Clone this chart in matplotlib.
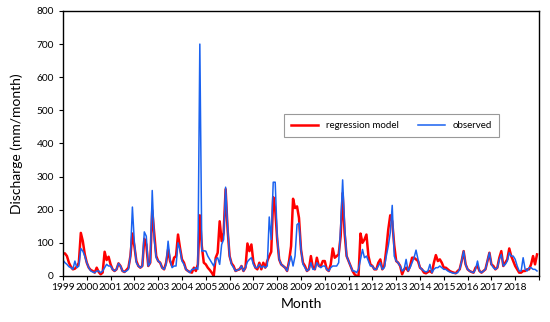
import numpy as np
import matplotlib
matplotlib.use("Agg")
import matplotlib.pyplot as plt

plt.rcParams['font.family'] = ['Lato', 'DejaVu Sans']

years = [str(y) for y in range(1999, 2019)]

# monthly discharge (mm/month), Jan 1999 - Dec 2018
regression = [
    68, 68, 60, 40, 28, 20, 22, 28, 40, 130, 105, 65,      # 1999
    40, 25, 18, 15, 10, 25, 12, 5, 10, 73, 48, 58,         # 2000
    35, 20, 15, 20, 38, 30, 15, 12, 18, 25, 60, 128,       # 2001
    90, 45, 30, 25, 30, 112, 95, 30, 40, 198, 130, 60,     # 2002
    45, 40, 25, 20, 40, 80, 45, 30, 55, 60, 125, 85,       # 2003
    50, 40, 20, 15, 12, 10, 25, 15, 35, 183, 90, 40,       # 2004
    35, 25, 18, 10, 0, 55, 70, 165, 105, 130, 262, 140,    # 2005
    60, 38, 30, 15, 18, 20, 30, 15, 25, 98, 75, 95,        # 2006
    42, 25, 20, 40, 20, 40, 25, 45, 60, 73, 238, 200,      # 2007
    110, 50, 35, 30, 25, 15, 45, 90, 233, 205, 210, 175,   # 2008
    80, 40, 30, 15, 20, 60, 25, 20, 55, 30, 30, 45,        # 2009
    45, 20, 15, 35, 83, 55, 60, 65, 120, 250, 130, 60,     # 2010
    45, 30, 15, 5, 0, 0, 128, 100, 110, 125, 60, 35,       # 2011
    30, 20, 20, 40, 50, 20, 30, 80, 140, 183, 165, 93,     # 2012
    45, 40, 30, 5, 20, 25, 15, 30, 55, 55, 50, 45,         # 2013
    25, 20, 10, 8, 12, 15, 10, 40, 63, 45, 50, 40,         # 2014
    25, 25, 20, 15, 12, 10, 8, 15, 20, 45, 75, 35,         # 2015
    20, 15, 12, 10, 25, 30, 15, 10, 15, 20, 45, 70,        # 2016
    35, 30, 20, 25, 55, 75, 30, 40, 50, 83, 60, 45,        # 2017
    30, 20, 10, 10, 15, 15, 20, 20, 35, 60, 35, 65,        # 2018
]

observed = [
    48, 40, 35, 28, 25, 20, 45, 25, 30, 83, 75, 60,        # 1999
    40, 25, 15, 12, 10, 15, 15, 10, 15, 25, 35, 30,        # 2000
    30, 20, 15, 20, 38, 30, 15, 12, 15, 20, 60, 208,       # 2001
    100, 40, 30, 25, 30, 133, 120, 30, 40, 258, 110, 55,   # 2002
    45, 40, 25, 20, 35, 105, 50, 25, 30, 30, 100, 80,      # 2003
    45, 35, 20, 15, 10, 20, 20, 25, 20, 700, 75, 76,       # 2004
    75, 60, 50, 40, 30, 50, 55, 35, 95, 110, 268, 150,     # 2005
    60, 35, 25, 15, 18, 20, 30, 15, 25, 43, 50, 55,        # 2006
    35, 25, 25, 35, 25, 30, 25, 30, 178, 110, 283, 283,    # 2007
    120, 50, 35, 30, 25, 15, 40, 60, 30, 60, 155, 160,     # 2008
    80, 35, 25, 15, 20, 40, 20, 20, 40, 30, 25, 30,        # 2009
    30, 20, 15, 25, 30, 30, 30, 40, 150, 290, 150, 60,     # 2010
    45, 30, 15, 15, 10, 20, 50, 80, 55, 60, 45, 30,        # 2011
    30, 20, 20, 30, 40, 20, 25, 60, 90, 130, 213, 60,      # 2012
    45, 40, 30, 15, 20, 50, 15, 25, 40, 55, 78, 50,        # 2013
    25, 20, 15, 12, 15, 35, 10, 20, 25, 25, 30, 25,        # 2014
    20, 20, 15, 12, 10, 8, 8, 10, 20, 45, 75, 35,          # 2015
    20, 15, 12, 10, 20, 45, 15, 10, 15, 20, 45, 70,        # 2016
    35, 25, 20, 25, 50, 65, 30, 35, 45, 70, 60, 60,        # 2017
    50, 30, 15, 15, 55, 20, 15, 25, 25, 20, 20, 15,        # 2018
]

months = np.arange(len(regression))

fig = plt.figure(figsize=(5.5, 3.22), dpi=100)
ax = fig.add_axes([0.1145, 0.143, 0.8655, 0.823])

ax.plot(months, regression, color='#ff0000', lw=1.8, label='regression model')
ax.plot(months, observed, color='#1a62f0', lw=1.1, label='observed')

ax.set_xlim(0, 240)
ax.set_ylim(0, 800)
ax.set_yticks(range(0, 801, 100))
ax.set_xticks(range(0, 241, 12))
ax.set_xticklabels(years + [''])
ax.tick_params(axis='both', direction='out', length=3, width=0.8, labelsize=7.3, colors='black')
ax.tick_params(axis='x', pad=2)
for s in ax.spines.values():
    s.set_linewidth(1.0)
    s.set_color('black')

ax.set_ylabel('Discharge (mm/month)', fontsize=10)
ax.set_xlabel('Month', fontsize=10)
ax.yaxis.set_label_coords(-0.085, 0.5)
ax.xaxis.set_label_coords(0.5, -0.085)

leg = ax.legend(loc='center', bbox_to_anchor=(0.69, 0.568), ncol=2, fontsize=7,
                frameon=True, fancybox=False, edgecolor='#808080',
                handlelength=2.8, columnspacing=2.0, borderpad=0.7)
leg.get_frame().set_linewidth(0.8)

fig.savefig('out.png', dpi=100)
